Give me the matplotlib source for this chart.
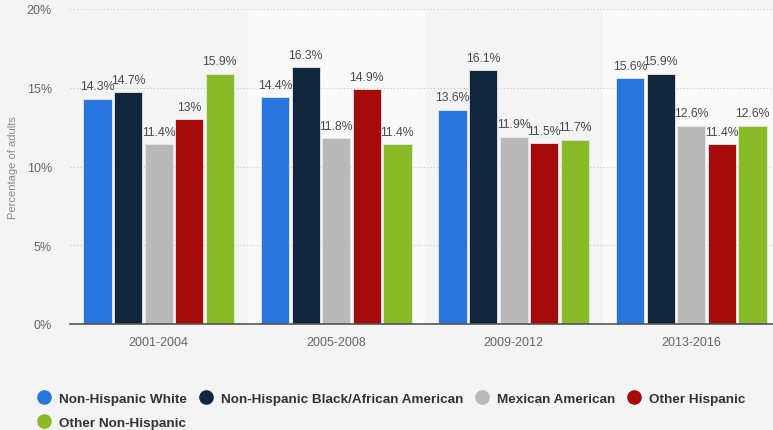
import matplotlib
matplotlib.use('Agg')
import matplotlib.pyplot as plt
import numpy as np
from matplotlib.lines import Line2D

plt.rcParams['font.family'] = ['Liberation Sans', 'DejaVu Sans']

periods = ["2001-2004", "2005-2008", "2009-2012", "2013-2016"]
groups = ["Non-Hispanic White", "Non-Hispanic Black/African American",
          "Mexican American", "Other Hispanic", "Other Non-Hispanic"]
white = [14.3, 14.4, 13.6, 15.6]
black = [14.7, 16.3, 16.1, 15.9]
mexican = [11.4, 11.8, 11.9, 12.6]
other_hisp = [13.0, 14.9, 11.5, 11.4]
other_non = [15.9, 11.4, 11.7, 12.6]
labels = [["14.3%", "14.4%", "13.6%", "15.6%"],
          ["14.7%", "16.3%", "16.1%", "15.9%"],
          ["11.4%", "11.8%", "11.9%", "12.6%"],
          ["13%", "14.9%", "11.5%", "11.4%"],
          ["15.9%", "11.4%", "11.7%", "12.6%"]]
colors = ["#2876dd", "#10263d", "#b9b9b9", "#a50b0b", "#89bb28"]

series = [white, black, mexican, other_hisp, other_non]
bg = "#f4f4f4"

fig = plt.figure(figsize=(7.73, 4.31), dpi=100, facecolor=bg)
ax = fig.add_axes([70/773, 1-325/431, 710/773, 315/431])
ax.set_facecolor(bg)

x = np.arange(len(periods))
w = 0.172
for i, s in enumerate(series):
    pos = x + (i - 2) * w
    ax.bar(pos, s, width=w - 0.012, color=colors[i],
           edgecolor="#e8e8e8", linewidth=0.6, zorder=3)
    for p, v, lab in zip(pos, s, labels[i]):
        ax.text(p, v + 0.4, lab, ha="center", va="bottom",
                fontsize=8.8, color="#4a4a4a", zorder=4)

# alternating band shading
for k in range(len(periods)):
    if k % 2 == 1:
        ax.axvspan(k - 0.5, k + 0.5, color="#fafafa", zorder=0, lw=0)

ax.set_xlim(-0.5, 3.5)
ax.set_ylim(0, 20)
ax.set_yticks([0, 5, 10, 15, 20])
ax.set_yticklabels(["0%", "5%", "10%", "15%", "20%"])
ax.set_xticks(x)
ax.set_xticklabels(periods)
ax.tick_params(axis="both", length=0, labelsize=9, colors="#666666")
ax.tick_params(axis="x", pad=9)
ax.tick_params(axis="y", pad=13)
ax.yaxis.grid(True, color="#c8c8c8", linestyle=(0, (1, 2)), linewidth=0.8, zorder=1)
for sp in ["top", "right", "left"]:
    ax.spines[sp].set_visible(False)
ax.spines["bottom"].set_color("#555555")
ax.spines["bottom"].set_linewidth(1.2)
ax.spines["bottom"].set_zorder(5)
ax.set_ylabel("Percentage of adults", fontsize=8, color="#8a8a8a", labelpad=6)

order = [0, 4, 1, 2, 3]
handles = [Line2D([], [], marker="o", linestyle="none", markersize=9.5,
                  markerfacecolor=colors[i], markeredgecolor=colors[i]) for i in order]
fig.legend(handles, [groups[i] for i in order], ncol=4, loc="upper left",
           bbox_to_anchor=(30.5/773, 1-387/431), frameon=False, borderpad=0,
           prop={"weight": "bold", "size": 9.7}, labelcolor="#333333",
           handletextpad=0.6, columnspacing=0.92, labelspacing=0.82,
           handlelength=1.0)

fig.savefig("out.png", dpi=100, facecolor=bg)
